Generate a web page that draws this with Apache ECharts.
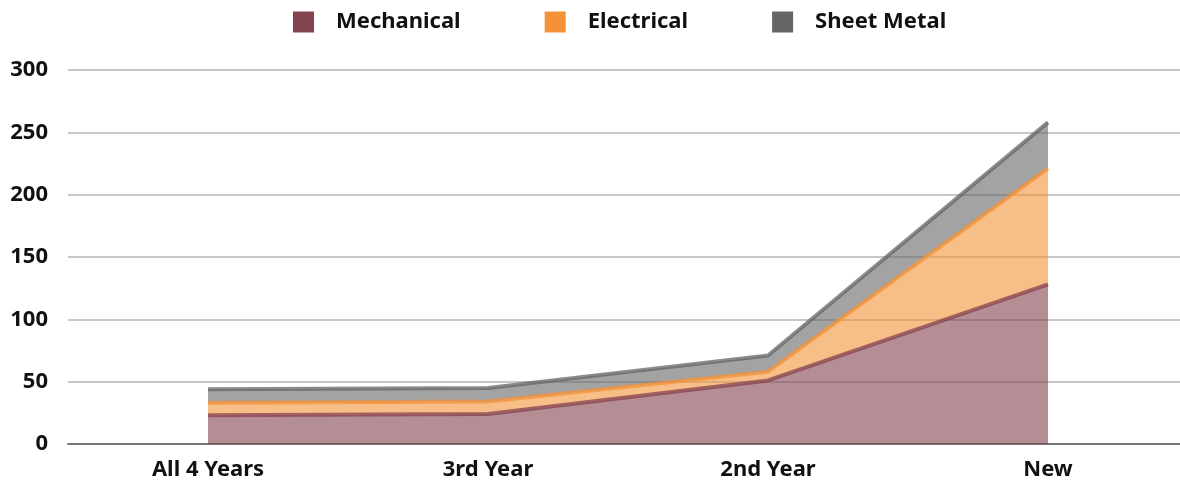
<!DOCTYPE html>
<html>
<head>
<meta charset="utf-8">
<script src="https://cdn.jsdelivr.net/npm/echarts@6/dist/echarts.min.js"></script>
<style>
  html, body { margin: 0; padding: 0; background: #fff; }
  #main { width: 1180px; height: 483px; }
</style>
</head>
<body>
<div id="main"></div>
<script>
// categories on the x axis
const categories = ['All 4 Years', '3rd Year', '2nd Year', 'New']
// stacked series values
const mechanical = [23, 24, 51, 128]
const electrical = [10, 10, 7, 93]
const sheetMetal = [11, 11, 13, 37]

const font = '"Noto Sans", Lato, sans-serif'

const makeSeries = (name, color, data) => ({
  name: name,
  type: 'line',
  stack: 'total',
  data: data,
  symbol: 'none',
  itemStyle: { color: color },
  lineStyle: { color: color, width: 4, opacity: 0.75 },
  areaStyle: { color: color, opacity: 0.6 },
  emphasis: { disabled: true }
})

const chart = echarts.init(document.getElementById('main'))
chart.setOption({
  animation: false,
  textStyle: { fontFamily: font },
  legend: {
    top: 6,
    left: 288,
    itemWidth: 21,
    itemHeight: 21,
    itemGap: 84,
    icon: 'rect',
    textStyle: {
      fontFamily: font,
      fontSize: 22,
      fontWeight: 'bold',
      color: '#111',
      padding: [0, 0, 0, 17]
    },
    data: ['Mechanical', 'Electrical', 'Sheet Metal']
  },
  grid: { left: 68, width: 1120, top: 70, bottom: 39, outerBoundsMode: 'none' },
  xAxis: {
    type: 'category',
    boundaryGap: true,
    data: categories,
    axisLine: { lineStyle: { color: '#777', width: 2 } },
    axisTick: { show: false },
    axisLabel: {
      fontFamily: font,
      fontSize: 22,
      fontWeight: 'bold',
      color: '#111',
      margin: 15
    }
  },
  yAxis: {
    type: 'value',
    min: 0,
    max: 300,
    interval: 50,
    axisLine: { show: false },
    axisTick: { show: false },
    splitLine: { lineStyle: { color: '#c8c8c8', width: 2 } },
    axisLabel: {
      fontFamily: font,
      fontSize: 22,
      fontWeight: 'bold',
      color: '#111',
      margin: 20
    }
  },
  series: [
    makeSeries('Mechanical', '#84424f', mechanical),
    makeSeries('Electrical', '#f39237', electrical),
    makeSeries('Sheet Metal', '#666666', sheetMetal)
  ]
})
</script>
</body>
</html>
